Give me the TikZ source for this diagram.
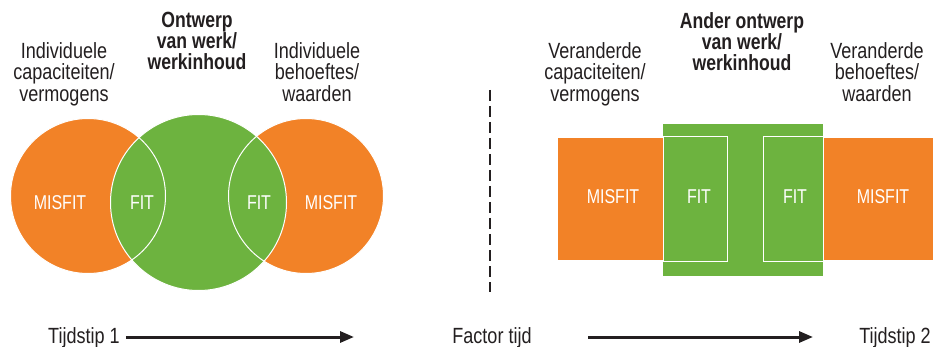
\documentclass[tikz,border=0pt]{standalone}
\usepackage{fontspec}
\setmainfont{Liberation Sans}[FakeStretch=0.82]
\newfontfamily\headfont{Liberation Sans}[FakeStretch=0.8]
\newfontfamily\condfont{Liberation Sans}[FakeStretch=0.8]
\usetikzlibrary{arrows.meta}
\definecolor{fitgreen}{HTML}{6DB33F}
\definecolor{misorange}{HTML}{F28227}
\definecolor{ink}{HTML}{231F20}
\tikzset{
  x=1pt, y=-1pt,
  lbl/.style={align=center, inner sep=0pt, anchor=north, text=ink,
    font=\fontsize{22}{21.5}\selectfont},
  head/.style={lbl, font=\headfont\bfseries\fontsize{22}{21}\selectfont},
  inside/.style={text=white, inner sep=0pt, font=\condfont\fontsize{20}{20}\selectfont},
  orangedisc/.style={circle, fill=misorange, draw=white, line width=1pt,
    minimum size=155pt, inner sep=0pt},
  greendisc/.style={circle, fill=fitgreen, draw=white, line width=1pt,
    minimum size=176pt, inner sep=0pt},
  timeline/.style={line width=3pt, draw=ink, -{Triangle[length=14pt,width=11pt]}},
  timetext/.style={anchor=base, inner sep=0pt, text=ink,
    font=\fontsize{22}{21}\selectfont},
}
\begin{document}
\begin{tikzpicture}
\useasboundingbox (0,0) rectangle (936,347);

% ---------- left: circles ----------
\node[orangedisc] (capL) at (88,196) {};
\node[orangedisc] (needL) at (306,196) {};
\node[greendisc] (workL) at (198.5,202.5) {};
% white arcs of the orange circles where they cross the green one
\begin{scope}
  \clip (workL.center) circle (88pt);
  \draw[white, line width=1pt] (capL.center) circle (77.5pt);
  \draw[white, line width=1pt] (needL.center) circle (77.5pt);
\end{scope}

\node[inside] (misL1) at (60,203) {MISFIT};
\node[inside] (fitL1) at (142,203) {FIT};
\node[inside] (fitL2) at (259,203) {FIT};
\node[inside] (misL2) at (331,203) {MISFIT};

% ---------- right: bars ----------
\node[fill=misorange, draw=white, line width=0.6pt, minimum width=376pt,
  minimum height=123pt, inner sep=0pt] (capR) at (745,198.5) {};
\node[fill=fitgreen, minimum width=160pt, minimum height=152pt,
  inner sep=0pt] (workR) at (743,200) {};
\node[fill=fitgreen, draw=white, line width=1pt, minimum width=64pt,
  minimum height=124pt, inner sep=0pt] (fitbarL) at (695,199) {};
\node[fill=fitgreen, draw=white, line width=1pt, minimum width=60pt,
  minimum height=124pt, inner sep=0pt] (fitbarR) at (793,199) {};

\node[inside] (misR1) at (613,197) {MISFIT};
\node[inside] (fitR1) at (699,197) {FIT};
\node[inside] (fitR2) at (795,197) {FIT};
\node[inside] (misR2) at (883,197) {MISFIT};

% ---------- labels ----------
\node[lbl] (capLtxt) at (64,42) {Individuele\\capaciteiten/\\vermogens};
\node[head] (workLtxt) at (197,12) {Ontwerp\\van werk/\\werkinhoud};
\node[lbl] (needLtxt) at (317,42) {Individuele\\behoeftes/\\waarden};

\node[lbl] (capRtxt) at (595,42) {Veranderde\\capaciteiten/\\vermogens};
\node[head] (workRtxt) at (742,12) {Ander ontwerp\\van werk/\\werkinhoud};
\node[lbl] (needRtxt) at (877,42) {Veranderde\\behoeftes/\\waarden};

% ---------- divider ----------
\coordinate (divtop) at (490,90);
\coordinate (divbot) at (490,292);
\draw[ink, line width=2pt, dash pattern=on 11pt off 5pt] (divtop) -- (divbot);

% ---------- time axis ----------
\node[timetext] (t1) at (84,343) {Tijdstip 1};
\node[timetext] (ft) at (492,343) {Factor tijd};
\node[timetext] (t2) at (895,343) {Tijdstip 2};
\coordinate (a1end) at (354,337);
\coordinate (a2start) at (588,337);
\coordinate (a2end) at (813,337);
\draw[timeline] (t1.east |- a1end) ++(6,0) -- (a1end);
\draw[timeline] (a2start) -- (a2end);
\end{tikzpicture}
\end{document}
